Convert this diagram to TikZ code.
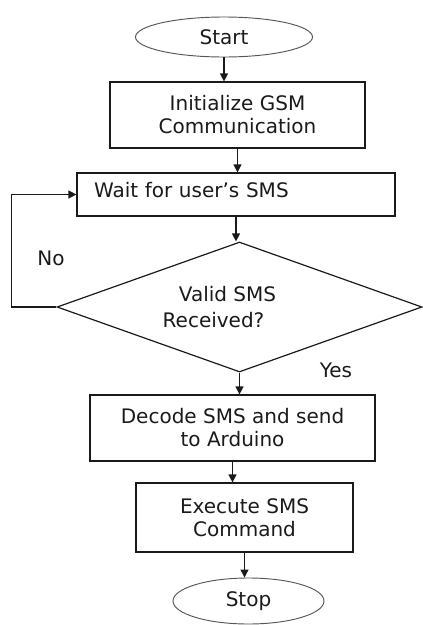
\documentclass[tikz,border=0pt]{standalone}
\usepackage{xcolor}
\usepackage{fontspec}
\setmainfont{DejaVu Sans}
\usepackage{tikz}
\usetikzlibrary{arrows.meta,shapes.geometric}
\definecolor{ink}{HTML}{1A1A1A}
\definecolor{rim}{HTML}{555555}
\newcommand{\flowbox}[5]{
  \node[box,minimum width=0.75pt*#3,minimum height=0.75pt*#4] (#1) at #2 {#5};
}
\newcommand{\terminal}[5]{
  \node[term,minimum width=0.75pt*#3,minimum height=0.75pt*#4] (#1) at #2 {#5};
}
\tikzset{
  txt/.style={font=\fontsize{15}{17.25}\selectfont,text=ink},
  box/.style={txt,draw=ink,line width=0.9pt,align=center,inner sep=2pt},
  term/.style={txt,ellipse,draw=rim,line width=0.7pt,inner sep=1pt},
  flow/.style={->,line width=0.9pt,draw=ink}
}

\begin{document}
\begin{tikzpicture}[x=0.75pt,y=-0.75pt,>={Triangle[length=6pt,width=6pt]}]
  \useasboundingbox (0,0) rectangle (422,625);
  \terminal{start}{(224,37)}{177}{40}{Start}
  \flowbox{init}{(237.5,115)}{255}{66}{Initialize GSM\\Communication}
  \node[box,align=left,text width=0.75pt*284,inner xsep=0.75pt*17,
        minimum height=0.75pt*43] (wait) at (236,194.5)
        {\raisebox{3pt}[\height][\depth]{Wait for user’s SMS}};
  \node[txt,diamond,draw=ink,line width=0.9pt,inner sep=0pt,align=center,
        minimum width=0.75pt*365,minimum height=0.75pt*130] (valid) at (239.5,307)
        {\hspace*{-18pt}Valid SMS\\[2pt]\hspace*{-39pt}Received?};
  \flowbox{decode}{(232.5,428)}{285}{66}{Decode SMS and send\\to Arduino}
  \flowbox{exec}{(244.5,517.5)}{217}{69}{Execute SMS\\Command}
  \terminal{stop}{(248.5,601)}{151}{46}{Stop}
  \node[txt] (no) at (51,258) {No};
  \node[txt] (yes) at (336,370) {Yes};
  \draw[flow] (start.south) -- (start.south |- init.north);
  \draw[flow] (init.south) -- (init.south |- wait.north);
  \draw[flow] (wait.south) -- (wait.south |- valid.north);
  \draw[flow] (valid.south) -- (valid.south |- decode.north);
  \draw[flow] (decode.south) -- (decode.south |- exec.north);
  \draw[flow] (exec.south) -- (exec.south |- stop.north);
  \draw[flow] (valid.west) -- ++(-45,0) |- (wait.west);
\end{tikzpicture}
\end{document}
